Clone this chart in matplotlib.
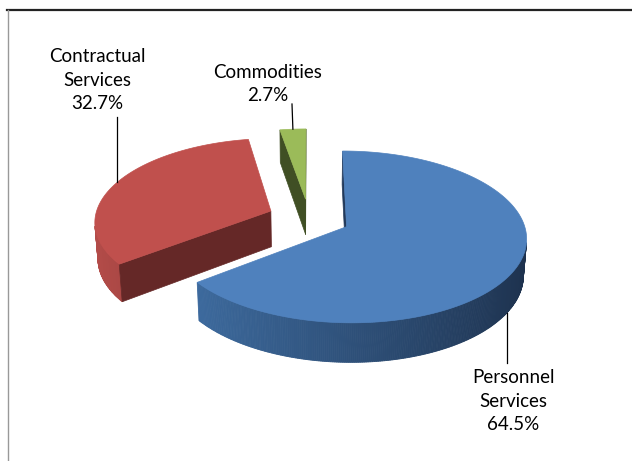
import numpy as np
import matplotlib.pyplot as plt
from matplotlib.patches import Polygon
from matplotlib.colors import to_rgb

# budget shares, drawn clockwise from 12 o'clock
labels = ["Personnel\nServices", "Contractual\nServices", "Commodities"]
shares = [64.5, 32.7, 2.7]

top_colors = ["#4F81BD", "#C0504D", "#9BBB59"]
side_light = ["#4070A6", "#B44C49", "#8FAE52"]
side_dark = ["#1D314D", "#5E2524", "#3F4F24"]
cut_colors = ["#22395A", "#652827", "#404F24"]

# 3-d view of the pie (world units: radius = 1)
TILT = np.radians(28)
DIST = 7.5
RAD = 176.0
CX, CY = 309.0, 218.0
THICK = 0.235
EXPLODE = 0.235

CAM = np.array([0.0, DIST * np.cos(TILT), DIST * np.sin(TILT)])


def project(x, z, y):
    # x to the right, z towards the viewer, y up
    zc = z * np.cos(TILT) + y * np.sin(TILT)
    yc = y * np.cos(TILT) - z * np.sin(TILT)
    s = DIST / (DIST - zc)
    return CX + RAD * s * x, CY - RAD * s * yc


def rim(ox, oz, t, y=0.0):
    return project(ox + np.sin(t), oz - np.cos(t), y)


def facing(point, normal):
    return np.dot(CAM - np.asarray(point), normal) > 0


def mix(c1, c2, f):
    a, b = np.array(to_rgb(c1)), np.array(to_rgb(c2))
    return tuple(a + (b - a) * f)


fig = plt.figure(figsize=(6.32, 4.61), dpi=100)
ax = fig.add_axes([0, 0, 1, 1])
ax.set_xlim(0, 632)
ax.set_ylim(461, 0)
ax.axis("off")

fracs = np.array(shares) / sum(shares)
edges = np.concatenate([[0], np.cumsum(fracs)]) * 2 * np.pi
slices = []
for i in range(len(shares)):
    t0, t1 = edges[i], edges[i + 1]
    tm = (t0 + t1) / 2
    ox, oz = EXPLODE * np.sin(tm), -EXPLODE * np.cos(tm)
    slices.append((i, t0, t1, ox, oz))

# paint back to front
slices.sort(key=lambda s: s[4])

for i, t0, t1, ox, oz in slices:
    ts = np.linspace(t0, t1, max(int((t1 - t0) / 0.01), 4))

    # outer wall, shaded by which way it faces
    for a, b in zip(ts[:-1], ts[1:]):
        m = (a + b) / 2
        p = (ox + np.sin(m), oz - np.cos(m), 0.0)
        n = (np.sin(m), -np.cos(m), 0.0)
        if not facing(p, n):
            continue
        quad = [rim(ox, oz, a), rim(ox, oz, b),
                rim(ox, oz, b, -THICK), rim(ox, oz, a, -THICK)]
        col = mix(side_dark[i], side_light[i], (1 - np.sin(m)) / 2)
        ax.add_patch(Polygon(quad, closed=True, fc=col, ec=col, lw=0.6))

    # the two cut faces
    for t, n in ((t0, (-np.cos(t0), -np.sin(t0), 0.0)),
                 (t1, (np.cos(t1), np.sin(t1), 0.0))):
        p = (ox + 0.5 * np.sin(t), oz - 0.5 * np.cos(t), 0.0)
        if not facing(p, n):
            continue
        quad = [project(ox, oz, 0.0), rim(ox, oz, t),
                rim(ox, oz, t, -THICK), project(ox, oz, -THICK)]
        ax.add_patch(Polygon(quad, closed=True, fc=cut_colors[i],
                             ec=cut_colors[i], lw=0.5))

    top = [project(ox, oz, 0.0)] + [rim(ox, oz, t) for t in ts]
    ax.add_patch(Polygon(top, closed=True, fc=top_colors[i],
                         ec=top_colors[i], lw=0.5))

# data labels with leader lines
geo = {s[0]: s for s in slices}
label_pos = [(513, 401), (97, 80), (268, 84)]
anchor_t = [np.radians(122), np.radians(291.6), None]
anchor_y = [-THICK, 0.0, 0.0]
leader_end = [(None, 363), (None, 117), (292, 104)]

for i in range(len(shares)):
    _, t0, t1, ox, oz = geo[i]
    t = anchor_t[i] if anchor_t[i] is not None else (t0 + t1) / 2
    x0, y0 = rim(ox, oz, t, anchor_y[i])
    ex, ey = leader_end[i]
    if ex is None:
        ex = x0
    ax.plot([x0, ex], [y0, ey], color="black", lw=0.9)
    ax.text(label_pos[i][0], label_pos[i][1], f"{labels[i]}\n{shares[i]}%",
            ha="center", va="center", fontsize=13.5, family="Lato",
            linespacing=1.45, color="black")

# chart frame
ax.plot([7, 632], [10.5, 10.5], color="#222222", lw=1.6)
ax.plot([7.5, 7.5], [10, 461], color="#999999", lw=1.0)

fig.savefig("out.png", dpi=100)
